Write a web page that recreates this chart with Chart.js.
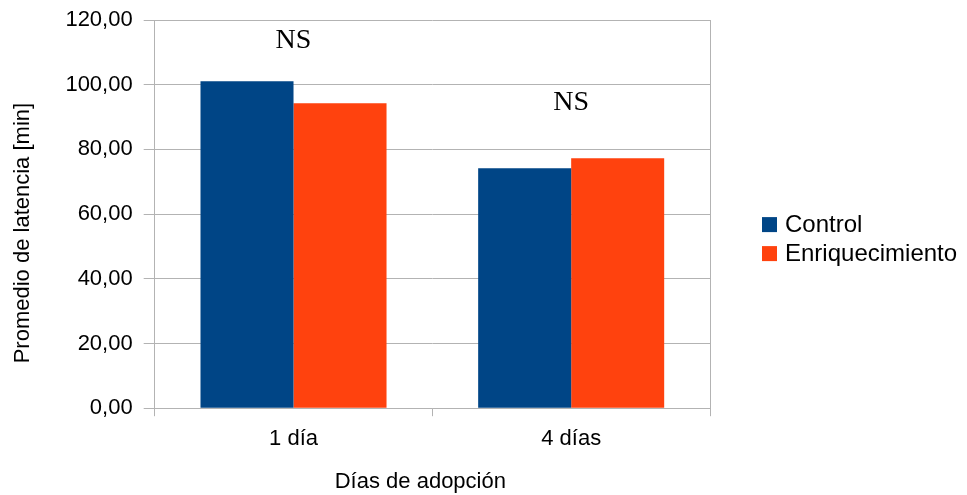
<!DOCTYPE html>
<html>
<head>
<meta charset="utf-8">
<script src="https://cdn.jsdelivr.net/npm/chart.js@4"></script>
<style>
html,body{margin:0;padding:0;background:#fff;}
#wrap{width:967px;height:495px;}
</style>
</head>
<body>
<div id="wrap"><canvas id="c" width="967" height="495"></canvas></div>
<script>
const categories = ['1 día', '4 días'];
const seriesNames = ['Control', 'Enriquecimiento'];
const seriesColors = ['#004586', '#ff420e'];
const controlValues = [101.1, 74.2];
const enriquecimientoValues = [94.3, 77.3];
const annotationLabels = ['NS', 'NS'];
const annotationValues = [113.6, 94.6];
const xTitle = 'Días de adopción';
const yTitle = 'Promedio de latencia [min]';
const yMin = 0, yMax = 120, yStep = 20;

const gridColor = '#b3b3b3';
const sansFont = '"Liberation Sans", Arial, sans-serif';

const annotationPlugin = {
  id: 'nsLabels',
  afterDatasetsDraw(chart) {
    const ctx = chart.ctx;
    const xs = chart.scales.x, ys = chart.scales.y;
    ctx.save();
    ctx.font = '28px "Liberation Serif", "Times New Roman", serif';
    ctx.fillStyle = '#000';
    ctx.textAlign = 'center';
    ctx.textBaseline = 'middle';
    annotationLabels.forEach((t, i) => {
      ctx.fillText(t, xs.getPixelForValue(i), ys.getPixelForValue(annotationValues[i]));
    });
    ctx.restore();
  }
};

// Axis titles: space is reserved by Chart.js (transparent titles), text drawn here with the
// reference's slight off-centre placement.
const axisTitlePlugin = {
  id: 'axisTitles',
  afterDraw(chart) {
    const ctx = chart.ctx;
    const area = chart.chartArea;
    const xs = chart.scales.x, ys = chart.scales.y;
    ctx.save();
    ctx.font = '22px ' + sansFont;
    ctx.fillStyle = '#000';
    ctx.textAlign = 'center';
    ctx.textBaseline = 'middle';
    ctx.fillText(xs.options.title.text, (area.left + area.right) / 2 - 12, xs.bottom - 13.2);
    ctx.translate(ys.left + 6 + 13.2, (area.top + area.bottom) / 2 + 19);
    ctx.rotate(-Math.PI / 2);
    ctx.fillText(ys.options.title.text, 0, 0);
    ctx.restore();
  }
};

const sideLegendPlugin = {
  id: 'sideLegend',
  afterDraw(chart) {
    const ctx = chart.ctx;
    const area = chart.chartArea;
    const boxX = area.right + 52;
    const box = 15, rowGap = 29;
    const n = chart.data.datasets.length;
    const midY = (area.top + area.bottom) / 2 + 25;
    const startY = midY - ((n - 1) * rowGap) / 2;
    ctx.save();
    ctx.font = '24px ' + sansFont;
    ctx.textAlign = 'left';
    ctx.textBaseline = 'middle';
    chart.data.datasets.forEach((ds, i) => {
      const cy = startY + i * rowGap;
      ctx.fillStyle = ds.backgroundColor;
      ctx.fillRect(boxX, cy - box / 2, box, box);
      ctx.fillStyle = '#000';
      ctx.fillText(ds.label, boxX + box + 8, cy + 1);
    });
    ctx.restore();
  }
};

new Chart(document.getElementById('c'), {
  type: 'bar',
  data: {
    labels: categories,
    datasets: [
      { label: seriesNames[0], data: controlValues, backgroundColor: seriesColors[0], categoryPercentage: 0.67, barPercentage: 1.0 },
      { label: seriesNames[1], data: enriquecimientoValues, backgroundColor: seriesColors[1], categoryPercentage: 0.67, barPercentage: 1.0 }
    ]
  },
  options: {
    responsive: false,
    animation: false,
    layout: { padding: { top: 0, left: 4, right: 257, bottom: 0 } },
    plugins: {
      tooltip: { enabled: false },
      legend: { display: false }
    },
    scales: {
      x: {
        offset: true,
        grid: {
          display: true, offset: true, drawOnChartArea: true, drawTicks: true, tickLength: 8,
          color: c => (c.index === 1 ? 'rgba(0,0,0,0)' : gridColor),
          tickColor: gridColor
        },
        border: { display: true, color: gridColor },
        ticks: { font: { family: sansFont, size: 22 }, color: '#000', padding: 10 },
        title: { display: true, text: xTitle, font: { family: sansFont, size: 22 }, color: 'rgba(0,0,0,0)', padding: { top: 6, bottom: 0 } }
      },
      y: {
        min: yMin, max: yMax,
        afterFit(scale) { scale.paddingTop = 20; },
        ticks: {
          stepSize: yStep,
          font: { family: sansFont, size: 22 },
          color: '#000',
          padding: 11,
          callback: v => v.toFixed(2).replace('.', ',')
        },
        grid: { color: gridColor, tickLength: 11 },
        border: { display: true, color: gridColor },
        title: { display: true, text: yTitle, font: { family: sansFont, size: 22 }, color: 'rgba(0,0,0,0)', padding: { top: 6, bottom: 18 } }
      }
    }
  },
  plugins: [annotationPlugin, axisTitlePlugin, sideLegendPlugin]
});
</script>
</body>
</html>
